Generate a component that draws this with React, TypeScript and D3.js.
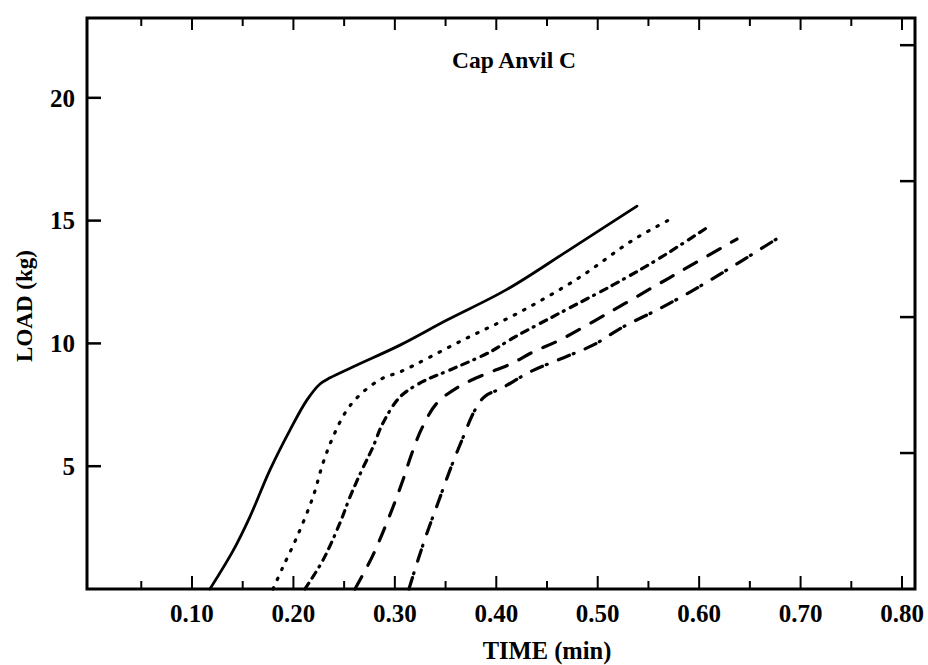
import React from "react";
import * as d3 from "d3";

// ---- data ----
const xMajorTicks = [0.1, 0.2, 0.3, 0.4, 0.5, 0.6, 0.7, 0.8];
const xMinorTicks = [0.05, 0.15, 0.25, 0.35, 0.45, 0.55, 0.65, 0.75];
const xTickLabels = ["0.10", "0.20", "0.30", "0.40", "0.50", "0.60", "0.70", "0.80"];
const yTicks = [5, 10, 15, 20];
const yTickLabels = ["5", "10", "15", "20"];
const rightTicks = [1, 2, 3, 4];
const chartTitle = "Cap Anvil C";
const xLabel = "TIME (min)";
const yLabel = "LOAD (kg)";

const curveSolid: [number, number][] = [
  [0.1177, 0], [0.1404, 1.55], [0.1572, 2.95], [0.1769, 4.85], [0.1966, 6.47],
  [0.2134, 7.7], [0.2262, 8.35], [0.2361, 8.6], [0.2627, 9.12], [0.3051, 9.93],
  [0.3514, 10.95], [0.4106, 12.2], [0.4697, 13.75], [0.5387, 15.59],
];
const curveDotted: [number, number][] = [
  [0.1799, 0], [0.1897, 0.9], [0.2035, 2.12], [0.2193, 3.75], [0.2292, 5.13],
  [0.239, 6.19], [0.2528, 7.29], [0.2686, 8.02], [0.2883, 8.59], [0.3051, 8.84],
  [0.3672, 10.14], [0.4234, 11.28], [0.4825, 12.7], [0.5348, 14.21], [0.5742, 15.11],
];
const curveDashDot: [number, number][] = [
  [0.2114, 0], [0.2292, 1.18], [0.2459, 2.69], [0.2558, 3.75], [0.2676, 4.85],
  [0.2784, 5.78], [0.2883, 6.76], [0.3051, 7.82], [0.3268, 8.43], [0.3544, 8.92],
  [0.3938, 9.65], [0.4165, 10.22], [0.4628, 11.24], [0.5151, 12.38], [0.5614, 13.48],
  [0.6087, 14.74],
];
const curveDashed: [number, number][] = [
  [0.2607, 0], [0.2775, 1.3], [0.2883, 2.32], [0.2982, 3.34], [0.308, 4.44],
  [0.3169, 5.54], [0.3268, 6.56], [0.3415, 7.57], [0.3623, 8.22], [0.3869, 8.71],
  [0.4135, 9.15], [0.4362, 9.65], [0.4628, 10.14], [0.5121, 11.28], [0.5584, 12.38],
  [0.5841, 12.99], [0.6373, 14.25],
];
const curveLongDashDot: [number, number][] = [
  [0.3139, 0], [0.3228, 1.18], [0.3317, 2.28], [0.3425, 3.5], [0.3544, 4.85],
  [0.3662, 6.07], [0.379, 7.29], [0.389, 7.85], [0.4056, 8.18], [0.4332, 8.84],
  [0.4658, 9.41], [0.4953, 9.93], [0.5249, 10.67], [0.5584, 11.36], [0.591, 12.09],
  [0.611, 12.58], [0.64, 13.31], [0.6777, 14.29],
];

const seriesList = [
  { data: curveSolid, dash: "none", width: 2.8 },
  { data: curveDotted, dash: "1.5,9", width: 3.2 },
  { data: curveDashDot, dash: "7,6,7,6,1,7", width: 3.2 },
  { data: curveDashed, dash: "14,13", width: 3.2 },
  { data: curveLongDashDot, dash: "12,4,1,12", width: 3.2 },
];

export default function App() {
  const W = 928, H = 665;
  const left = 87, right = 915, top = 18, bottom = 589;
  const x = d3.scaleLinear().domain([-0.0035, 0.8128]).range([left, right]);
  const y = d3.scaleLinear().domain([0, 23.25]).range([bottom, top]);
  const yR = d3.scaleLinear().domain([0, 4.2]).range([bottom, top]);
  const line = d3
    .line<[number, number]>()
    .x((d) => x(d[0]))
    .y((d) => y(d[1]))
    .curve(d3.curveCatmullRom.alpha(0.5));
  const font = "'Liberation Serif', 'Times New Roman', serif";

  return (
    <svg
      width={W}
      height={H}
      style={{ position: "absolute", left: 0, top: 0, background: "#fff" }}
      fontFamily={font}
      fontWeight="bold"
    >
      <rect x={0} y={0} width={W} height={H} fill="#fff" />
      {/* frame */}
      <rect x={left} y={top} width={right - left} height={bottom - top} fill="none" stroke="#000" strokeWidth={3} />
      {/* bottom & top ticks */}
      {xMajorTicks.map((t) => (
        <g key={"M" + t}>
          <line x1={x(t)} x2={x(t)} y1={bottom} y2={bottom - 13} stroke="#000" strokeWidth={2} />
          <line x1={x(t)} x2={x(t)} y1={top} y2={top + 12} stroke="#000" strokeWidth={2} />
        </g>
      ))}
      {xMinorTicks.map((t) => (
        <g key={"m" + t}>
          <line x1={x(t)} x2={x(t)} y1={bottom} y2={bottom - 8} stroke="#000" strokeWidth={2} />
          <line x1={x(t)} x2={x(t)} y1={top} y2={top + 8} stroke="#000" strokeWidth={2} />
        </g>
      ))}
      {xMajorTicks.map((t, i) => (
        <text key={"xl" + t} x={x(t)} y={622} textAnchor="middle" fontSize={25}>
          {xTickLabels[i]}
        </text>
      ))}
      {/* left ticks */}
      {yTicks.map((v, i) => (
        <g key={"y" + v}>
          <line x1={left} x2={left + 14} y1={y(v)} y2={y(v)} stroke="#000" strokeWidth={2.5} />
          <text x={75} y={y(v)} dy="0.35em" textAnchor="end" fontSize={25}>
            {yTickLabels[i]}
          </text>
        </g>
      ))}
      {/* right ticks */}
      {rightTicks.map((v) => (
        <line key={"r" + v} x1={right} x2={right - 15} y1={yR(v)} y2={yR(v)} stroke="#000" strokeWidth={2.5} />
      ))}
      {/* curves */}
      {seriesList.map((s, i) => (
        <path
          key={"s" + i}
          d={line(s.data) || ""}
          fill="none"
          stroke="#000"
          strokeWidth={s.width}
          strokeDasharray={s.dash}
          strokeLinecap="round"
        />
      ))}
      {/* titles */}
      <text x={514} y={68} textAnchor="middle" fontSize={23.5}>
        {chartTitle}
      </text>
      <text x={547} y={659} textAnchor="middle" fontSize={24.5}>
        {xLabel}
      </text>
      <text transform="translate(32,306) rotate(-90)" textAnchor="middle" fontSize={23}>
        {yLabel}
      </text>
    </svg>
  );
}
